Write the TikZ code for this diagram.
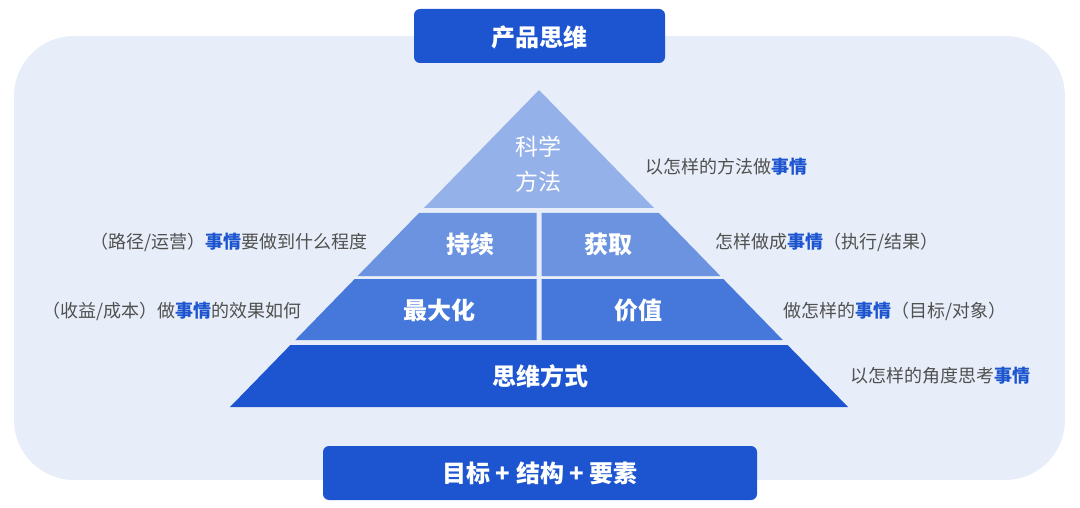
\documentclass[tikz,border=0pt]{standalone}
\usepackage{fontspec}
\setmainfont{Noto Sans CJK SC}
\usetikzlibrary{positioning}
\definecolor{bgblue}{HTML}{E8EEF9}
\definecolor{deepblue}{HTML}{1C55CF}
\definecolor{tierA}{HTML}{95B1E9}
\definecolor{tierB}{HTML}{6B93E0}
\definecolor{tierC}{HTML}{4677DA}
\definecolor{txtgray}{HTML}{505050}
\newcommand{\hl}[1]{{\bfseries\color{deepblue}#1}}
\tikzset{
  titlebox/.style={fill=deepblue,rounded corners=6pt},
  tierlabel/.style={text=white,font=\fontsize{24}{28}\selectfont\bfseries},
  sidelabel/.style={text=txtgray,font=\fontsize{18}{22}\selectfont,inner sep=0pt},
}
\begin{document}
\begin{tikzpicture}[x=1pt,y=-1pt]
\useasboundingbox (0,0) rectangle (1080,508);
%
% Hintergrund
\fill[bgblue,rounded corners=60pt] (14,36) rectangle (1065,480);
%
% --- Pyramide ---
\fill[tierA] (539,90) -- (654,208) -- (424,208) -- cycle;
% zweite Ebene
\fill[tierB] (419,213) -- (536.5,213) -- (536.5,276) -- (357.6,276) -- cycle;
\fill[tierB] (541.5,213) -- (659,213) -- (720.4,276) -- (541.5,276) -- cycle;
% dritte Ebene
\fill[tierC] (354.7,279) -- (536.5,279) -- (536.5,340) -- (295.3,340) -- cycle;
\fill[tierC] (541.5,279) -- (723.3,279) -- (782.8,340) -- (541.5,340) -- cycle;
% Basis
\fill[deepblue] (290.4,345) -- (787.6,345) -- (848,407) -- (230,407) -- cycle;
%
% Beschriftung der Ebenen
\node[text=white,font=\fontsize{23}{35}\selectfont,align=center] (kexue) at (538,164) {科学\\方法};
\node[tierlabel] (chixu) at (470,244) {持续};
\node[tierlabel] (huoqu) at (608,244) {获取};
\node[tierlabel] (zuidahua) at (439,310) {最大化};
\node[tierlabel] (jiazhi) at (638,310) {价值};
\node[tierlabel] (siwei) at (540,376) {思维方式};
%
% Kopf- und Fusszeile
\fill[titlebox] (414,9) rectangle (665,63);
\node[tierlabel] (chanpin) at (539.5,37) {产品思维};
\fill[titlebox] (323,446) rectangle (757,500);
\node[tierlabel] (mubiao) at (540,473) {目标 + 结构 + 要素};
%
% Erklaerungen rechts
\node[sidelabel,anchor=west] (fangfa) at (645,167) {以怎样的方法做\hl{事情}};
\node[sidelabel,anchor=west] (zuocheng) at (715,242) {怎样做成\hl{事情}（执行/结果）};
\node[sidelabel,anchor=west] (zuo) at (783,311) {做怎样的\hl{事情}（目标/对象）};
\node[sidelabel,anchor=west] (jiaodu) at (850,376) {以怎样的角度思考\hl{事情}};
% Erklaerungen links
\node[sidelabel,anchor=east] (lujing) at (368,242) {（路径/运营）\hl{事情}要做到什么程度};
\node[sidelabel,anchor=east] (shouyi) at (302,311) {（收益/成本）做\hl{事情}的效果如何};
\end{tikzpicture}
\end{document}
